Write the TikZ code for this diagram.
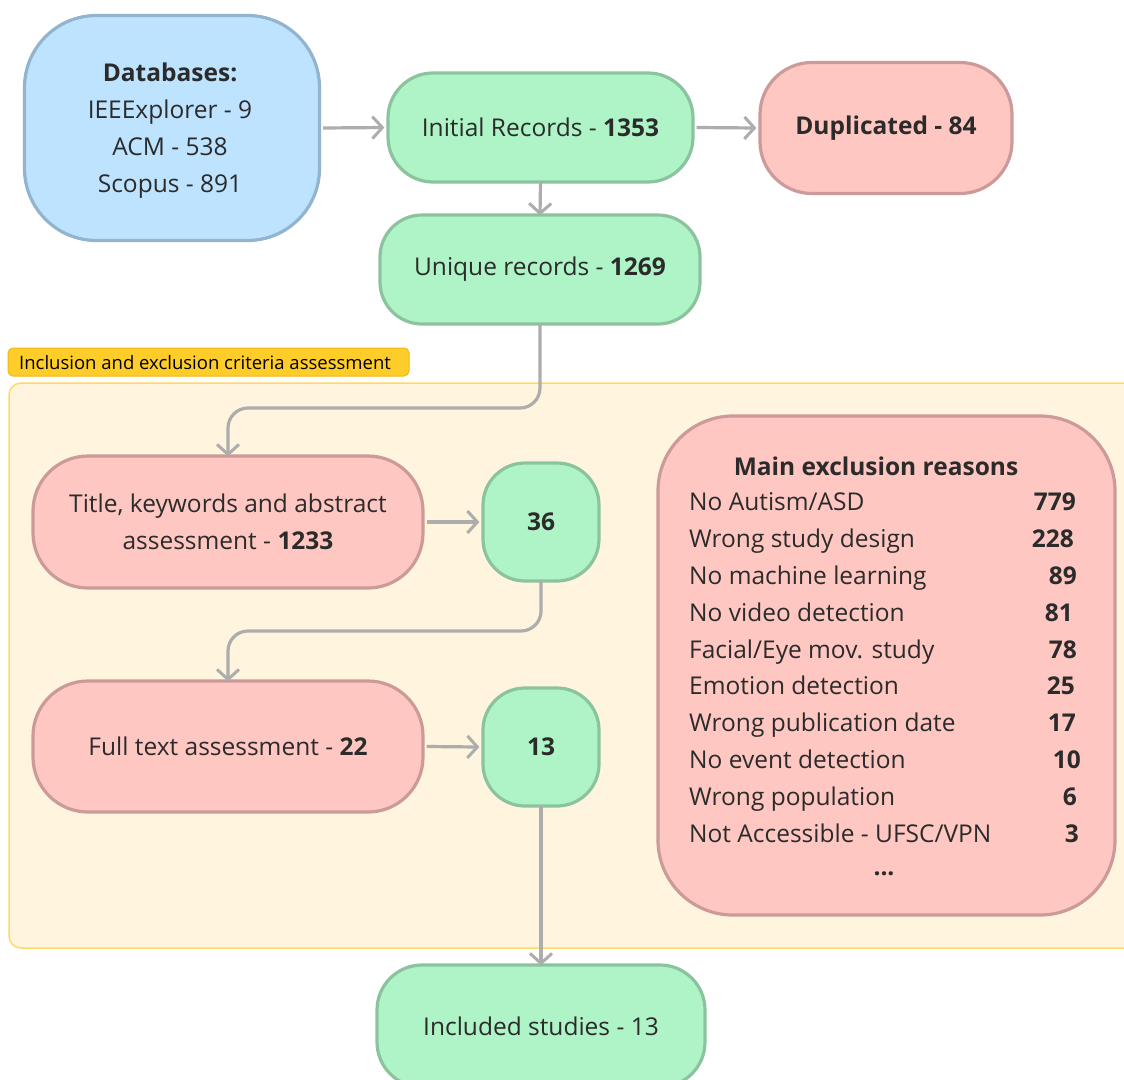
\documentclass[tikz,border=0pt]{standalone}
\usepackage{fontspec}
\setmainfont{Open Sans}
\usetikzlibrary{arrows.meta}
\definecolor{txt}{HTML}{2B2B2B}
\definecolor{bluefill}{HTML}{BDE3FF}
\definecolor{bluedraw}{HTML}{93B4CF}
\definecolor{greenfill}{HTML}{AFF4C6}
\definecolor{greendraw}{HTML}{8CC39F}
\definecolor{redfill}{HTML}{FFC7C2}
\definecolor{reddraw}{HTML}{CC9A98}
\definecolor{zonefill}{HTML}{FFF5DE}
\definecolor{zonedraw}{HTML}{FFD966}
\definecolor{tagfill}{HTML}{FFCD29}
\definecolor{tagdraw}{HTML}{EDB915}
\definecolor{arrowgray}{HTML}{ADADAD}
\tikzset{
  box/.style={draw, line width=3.2pt, text=txt, align=center, font=\fontsize{24.5}{37}\selectfont, inner sep=0pt},
  bluebox/.style={box, fill=bluefill, draw=bluedraw},
  greenbox/.style={box, fill=greenfill, draw=greendraw},
  redbox/.style={box, fill=redfill, draw=reddraw},
  arr/.style={draw=arrowgray, line width=3.2pt, -{Straight Barb[length=10pt,width=22pt,line width=3pt]}},
  row/.style={text=txt, font=\fontsize{24.5}{28}\selectfont, inner sep=0pt},
  rowbold/.style={row, font=\bfseries\fontsize{24.5}{28}\selectfont},
}
\begin{document}
\begin{tikzpicture}[x=1pt, y=-1pt]
\useasboundingbox (0,0) rectangle (1124,1079);
\clip (0,0) rectangle (1124,1079);
\fill[white] (0,0) rectangle (1124,1079);

% assessment zone and its tag
\draw[fill=zonefill, draw=zonedraw, line width=1.5pt, rounded corners=12pt] (9,383) rectangle (1150,948);
\node[draw=tagdraw, fill=tagfill, line width=1pt, rounded corners=5pt, minimum width=401pt, minimum height=28pt, inner sep=0pt] (tag) at (208.5,362) {};
\node[text=black, font=\fontsize{18.5}{22}\selectfont, anchor=west, inner sep=0pt] (taglabel) at (19,363) {Inclusion and exclusion criteria assessment};

% identification stage
\node[bluebox, minimum width=295pt, minimum height=225pt, rounded corners=72pt] (db) at (172,128) {};
\node[text=txt, font=\fontsize{24.5}{37}\selectfont, align=center, inner sep=0pt] (dbtext) at (170,131)
  {\textbf{Databases:}\\IEEExplorer - 9\\ACM - 538\\Scopus - 891};
\node[greenbox, minimum width=305pt, minimum height=109pt, rounded corners=45pt] (init) at (540.5,127.5) {Initial Records - \textbf{1353}};
\node[redbox, minimum width=252pt, minimum height=131pt, rounded corners=52pt] (dup) at (886,128) {\textbf{Duplicated - 84}};
\node[greenbox, minimum width=320pt, minimum height=109pt, rounded corners=42pt] (uniq) at (540,269.5) {Unique records - \textbf{1269}};

% screening stage
\node[redbox, minimum width=390pt, minimum height=132pt, rounded corners=55pt] (title) at (228,522) {Title, keywords and abstract\\assessment - \textbf{1233}};
\node[greenbox, minimum width=116pt, minimum height=118pt, rounded corners=42pt] (n36) at (541,522) {\textbf{36}};
\node[redbox, minimum width=390pt, minimum height=131pt, rounded corners=55pt] (full) at (228,746.5) {Full text assessment - \textbf{22}};
\node[greenbox, minimum width=116pt, minimum height=118pt, rounded corners=42pt] (n13) at (541,747) {\textbf{13}};
\node[greenbox, minimum width=328pt, minimum height=122pt, rounded corners=45pt] (incl) at (541,1026) {Included studies - 13};

% exclusion reasons
\node[redbox, minimum width=457pt, minimum height=499pt, rounded corners=75pt] (excl) at (886.5,665.5) {};
\node[rowbold] (exhead) at (876,466) {Main exclusion reasons};
\foreach \lbl/\num/\rx [count=\i] in {
  {No Autism/ASD}/779/1076,
  {Wrong study design}/228/1074,
  {No machine learning}/89/1077,
  {No video detection}/81/1073,
  {Facial/Eye mov. study}/78/1077,
  {Emotion detection}/25/1075,
  {Wrong publication date}/17/1076,
  {No event detection}/10/1081,
  {Wrong population}/6/1077,
  {Not Accessible - UFSC/VPN}/3/1079}{
  \node[row, anchor=base west] (reason\i) at (689,474+36.8*\i) {\lbl};
  \node[rowbold, anchor=base east] (count\i) at (\rx,474+36.8*\i) {\num};
}
\node[rowbold] (more) at (884,874) {...};

% connectors
\draw[arr] ([xshift=2pt]db.east) -- ([xshift=-2pt]init.west);
\draw[arr] ([xshift=2pt]init.east) -- ([xshift=-2pt]dup.west);
\draw[arr] ([yshift=2pt]init.south) -- ([yshift=-2pt]uniq.north);
\draw[arr, rounded corners=20pt] ([yshift=2pt]uniq.south) -- (uniq.south |- 0,408) -- (title.north |- 0,408) -- ([yshift=-2pt]title.north);
\draw[arr] ([xshift=2pt]title.east) -- ([xshift=-2pt]n36.west);
\draw[arr, rounded corners=20pt] ([yshift=2pt]n36.south) -- (n36.south |- 0,631) -- (full.north |- 0,631) -- ([yshift=-2pt]full.north);
\draw[arr] ([xshift=2pt]full.east) -- ([xshift=-2pt]n13.west);
\draw[arr] ([yshift=2pt]n13.south) -- ([yshift=-2pt]incl.north);
\end{tikzpicture}
\end{document}
